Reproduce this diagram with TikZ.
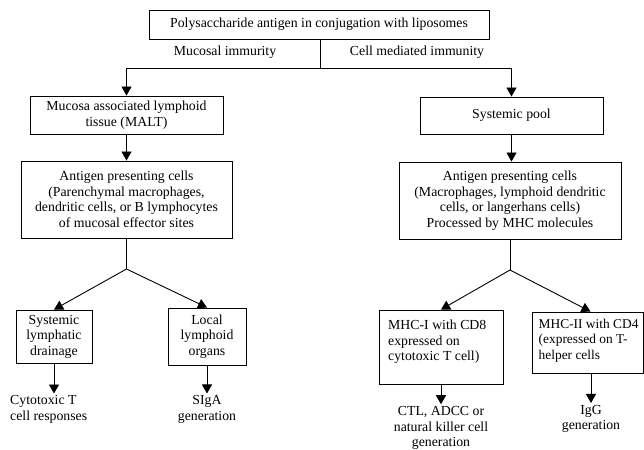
\documentclass[tikz,border=0pt]{standalone}
\usepackage{fontspec}
\setmainfont{Liberation Serif}
\usetikzlibrary{arrows.meta}
\newcommand\diagfont{\fontsize{13.8}{15.5}\selectfont}
\newcommand\diagfontsm{\fontsize{13.4}{15.5}\selectfont}
\begin{document}
\begin{tikzpicture}[x=1pt,y=-1pt,
  box/.style={draw=black, line width=0.9pt, inner sep=0pt, align=center, font=\diagfont},
  txt/.style={inner sep=0pt, align=center, font=\diagfont},
  ln/.style={draw=black, line width=0.9pt},
  arr/.style={ln, -{Triangle[width=10pt,length=9pt]}}]
\useasboundingbox (0,0) rectangle (644,449);
\fill[white] (0,0) rectangle (644,449);

\node[box, minimum width=340pt, minimum height=29pt] (top) at (319,24.5)
  {Polysaccharide antigen in conjugation with liposomes};
\node[txt] (lblL) at (225,52) {Mucosal immurity};
\node[txt] (lblR) at (417,52) {Cell mediated immunity};
\coordinate (split) at (320,68);

\node[box, minimum width=193pt, minimum height=38pt] (malt) at (126.5,115)
  {Mucosa associated lymphoid\\tissue (MALT)};
\node[box, minimum width=211pt, minimum height=77pt] (apcL) at (126.5,199.5)
  {Antigen presenting cells\\(Parenchymal macrophages,\\dendritic cells, or B lymphocytes\\of mucosal effector sites};
\node[box, minimum width=183pt, minimum height=37pt] (pool) at (511.5,115.5)
  {Systemic pool};
\node[box, minimum width=222pt, minimum height=77pt] (apcR) at (510,200.5)
  {Antigen presenting cells\\(Macrophages, lymphoid dendritic\\cells, or langerhans cells)\\Processed by MHC molecules};

\coordinate (forkL) at (126.5,269);
\coordinate (forkR) at (510,270);

\node[box, minimum width=76pt, minimum height=53pt] (sld) at (54,336.5)
  {Systemic\\lymphatic\\drainage};
\node[box, minimum width=78pt, minimum height=57pt] (llo) at (207,336.5)
  {Local\\lymphoid\\organs};
\node[box, minimum width=124pt, minimum height=74pt] (mhc1) at (441,347) {};
\node[txt, align=left, anchor=west] (mhc1t) at (388,342)
  {MHC-I with CD8\\expressed on\\cytotoxic T cell)};
\node[box, minimum width=111pt, minimum height=61pt] (mhc2) at (587.5,342.5) {};
\node[txt, align=left, anchor=west, font=\diagfontsm] (mhc2t) at (538.5,340.5)
  {MHC-II with CD4\\(expressed on T-\\helper cells};

\node[txt, align=left, anchor=west] (out1) at (10,409.5) {Cytotoxic T\\cell responses};
\node[txt] (out2) at (207,409.5) {SIgA\\generation};
\node[txt] (out3) at (441,428) {CTL, ADCC or\\natural killer cell\\generation};
\node[txt] (out4) at (591,419) {IgG\\generation};

\draw[ln] (split |- top.south) -- (split);
\draw[arr] (split) -| (malt.north);
\draw[arr] (split) -| (pool.north);
\draw[arr] (malt) -- (apcL);
\draw[arr] (pool.south) -- (pool.south |- apcR.north);
\draw[ln] (apcL.south) -- (forkL);
\draw[arr] (forkL) -- (sld.north);
\draw[arr] (forkL) -- (llo.north);
\draw[ln] (apcR.south) -- (forkR);
\draw[arr] (forkR) -- (mhc1.north);
\draw[arr] (forkR) -- ([xshift=3pt]mhc2.north);
\draw[arr, shorten >=2pt] (sld.south) -- (sld.south |- out1.north);
\draw[arr, shorten >=2pt] (llo.south) -- (llo.south |- out2.north);
\draw[arr, shorten >=2pt] (mhc1.south) -- (mhc1.south |- out3.north);
\draw[arr, shorten >=2pt] (out4.north |- mhc2.south) -- (out4.north);
\end{tikzpicture}
\end{document}
